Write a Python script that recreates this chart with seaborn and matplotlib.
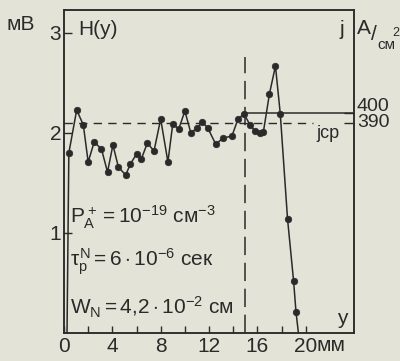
import matplotlib
matplotlib.use("Agg")
import matplotlib.pyplot as plt
import matplotlib.transforms as mtransforms
import seaborn as sns
import pandas as pd

# ---- data ----
y_mm = [0.4, 1.05, 1.6, 2.0, 2.5, 3.1, 3.6, 4.05, 4.5, 5.1, 5.5, 6.0, 6.4,
        6.9, 7.45, 8.0, 8.6, 9.0, 9.5, 10.0, 10.5, 11.0, 11.45, 11.9, 12.55,
        13.2, 13.9, 14.4, 14.9, 15.4, 15.8, 16.2, 16.5, 17.0, 17.5, 17.9,
        18.5, 19.0, 19.2]
H_mV = [1.80, 2.23, 2.08, 1.71, 1.91, 1.84, 1.61, 1.88, 1.66, 1.58, 1.69,
        1.79, 1.74, 1.90, 1.82, 2.14, 1.71, 2.09, 2.04, 2.22, 2.00, 2.05,
        2.11, 2.05, 1.89, 1.95, 1.97, 2.14, 2.19, 2.08, 2.02, 2.00, 2.01,
        2.39, 2.67, 2.19, 1.14, 0.52, 0.21]
# curve ends (no markers)
y_start, H_start = 0.25, 0.0
y_end, H_end = 19.4, 0.0

j_cp = 390          # A/cm^2, dashed level
j_level = 400       # A/cm^2, solid level
y_boundary = 15.0   # mm, vertical dashed line
x_ticks = [0, 2, 4, 6, 8, 10, 12, 14, 16, 18, 20]
x_labels = ["0", "", "4", "", "8", "", "12", "", "16", "", "20"]
h_ticks = [1, 2, 3]
j_ticks = [390, 400]

# ---- style ----
bg = "#e3e3d7"
ink = "#2a2a2a"
sns.set_theme(style="ticks")
plt.rcParams["font.family"] = ["Liberation Sans", "DejaVu Sans"]
plt.rcParams["mathtext.fontset"] = "custom"
plt.rcParams["mathtext.rm"] = "Liberation Sans"
plt.rcParams["mathtext.it"] = "Liberation Sans"
plt.rcParams["mathtext.bf"] = "Liberation Sans"
plt.rcParams["text.color"] = ink
plt.rcParams["axes.edgecolor"] = ink
plt.rcParams["xtick.color"] = ink
plt.rcParams["ytick.color"] = ink

fig = plt.figure(figsize=(4.0, 3.61), dpi=100, facecolor=bg)
ax = fig.add_axes([0.16, 0.0776, 0.725, 0.8947])
ax.set_facecolor(bg)

H_top = 3.23
ax.set_xlim(0, 24)
ax.set_ylim(0, H_top)

line_df = pd.DataFrame({"y": [y_start] + y_mm + [y_end],
                        "H": [H_start] + H_mV + [H_end]})
pts_df = pd.DataFrame({"y": y_mm, "H": H_mV})
sns.lineplot(data=line_df, x="y", y="H", ax=ax, color=ink, lw=1.1,
             sort=False, estimator=None)
sns.scatterplot(data=pts_df, x="y", y="H", ax=ax, color=ink, s=22,
                edgecolor=ink, linewidth=0.5, zorder=3)

# vertical dashed boundary
ax.plot([y_boundary, y_boundary], [0, 2.76], color=ink, lw=1.1,
        dashes=(12, 5))

# right axis for current density
ax2 = ax.twinx()
ax2.set_position(ax.get_position())
j_lo = j_cp - 2.10 * 100
ax2.set_ylim(j_lo, j_lo + H_top * 100)
ax2.plot([0, 20.6], [j_cp, j_cp], color=ink, lw=1.0, dashes=(6, 4.5))
ax2.plot([14.9, 24], [j_level, j_level], color=ink, lw=1.1)
ax2.set_yticks(j_ticks)
ax2.set_yticklabels([str(v) for v in j_ticks], fontsize=14)
ax2.tick_params(axis="y", direction="in", length=7, width=1.0, pad=2)
for lab in ax2.get_yticklabels():
    if lab.get_text() == str(j_level):
        lab.set_verticalalignment("baseline")
        lab.set_transform(lab.get_transform() +
                          mtransforms.ScaledTranslation(0, 2 / 100, fig.dpi_scale_trans))
    else:
        lab.set_verticalalignment("center")

ax.set_xticks(x_ticks)
ax.set_xticklabels(x_labels, fontsize=15)
ax.set_yticks(h_ticks)
ax.set_yticklabels([str(v) for v in h_ticks], fontsize=15)
ax.tick_params(axis="x", direction="in", length=5, width=1.0, pad=3)
ax.tick_params(axis="y", direction="in", length=6, width=1.0, pad=2)
ax.set_xlabel("")
ax.set_ylabel("")
for a in (ax, ax2):
    for s in a.spines.values():
        s.set_linewidth(1.1)
        s.set_color(ink)
        s.set_visible(True)

# ---- texts ----
fs = 15
fig.text(7 / 400, 1 - 24 / 361, "мВ", fontsize=fs, va="center", ha="left")
ax.text(1.15, 3.03, "H(y)", fontsize=fs, va="center", ha="left")
ax.text(23.0, 3.03, "j", fontsize=fs, va="center", ha="center")
fig.text(357 / 400, 1 - 28 / 361, "A", fontsize=fs, va="center", ha="left")
fig.text(371 / 400, 1 - 34 / 361, "/", fontsize=fs, va="center", ha="left")
fig.text(377 / 400, 1 - 45 / 361, "см", fontsize=11, va="center", ha="left")
fig.text(392 / 400, 1 - 33 / 361, "2", fontsize=9, va="center", ha="left")
ax.text(20.9, 1.99, "jср", fontsize=13, va="center", ha="left")
ax.text(22.6, 0.14, "y", fontsize=fs, va="center", ha="left")
ax.text(20.9, -0.03, "мм", fontsize=fs, va="top", ha="left",
        transform=ax.transData)

ax.text(0.5, 1.16, r"$P_A^+ = 10^{-19}$ см$^{-3}$", fontsize=fs,
        va="center", ha="left")
ax.text(0.5, 0.71, r"$\tau_p^N = 6 \cdot 10^{-6}$ сек", fontsize=fs,
        va="center", ha="left")
ax.text(0.5, 0.26, r"$W_N = 4{,}2 \cdot 10^{-2}$ см", fontsize=fs,
        va="center", ha="left")

fig.savefig("out.png", dpi=100, facecolor=bg)
